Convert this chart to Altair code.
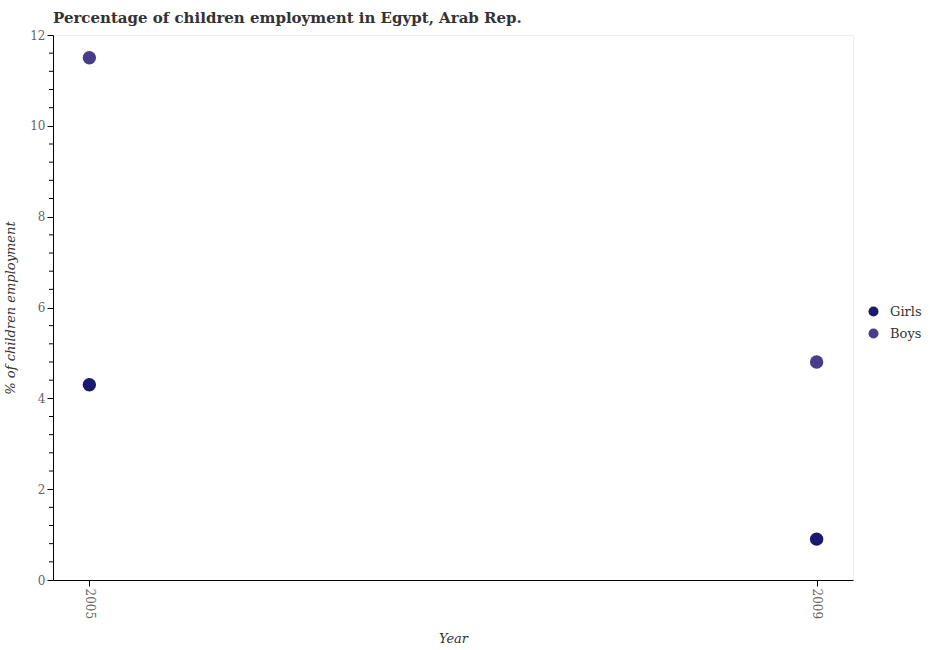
import altair as alt
import pandas as pd

years = ["2005", "2009", "2005", "2009"]
series = ["Girls", "Girls", "Boys", "Boys"]
values = [4.3, 0.9, 11.5, 4.8]
major_ticks = [0, 2, 4, 6, 8, 10, 12]
minor_ticks = [0.4, 0.8, 1.2, 1.6, 2.4, 2.8, 3.2, 3.6, 4.4, 4.8, 5.2, 5.6,
               6.4, 6.8, 7.2, 7.6, 8.4, 8.8, 9.2, 9.6, 10.4, 10.8, 11.2, 11.6]

df = pd.DataFrame({"Year": years, "Series": series, "Value": values})
minor_df = pd.DataFrame({"Value": minor_ticks})

yscale = alt.Scale(domain=[0, 12], nice=False)

points = alt.Chart(df).mark_circle(size=180, opacity=1).encode(
    x=alt.X("Year:O", scale=alt.Scale(type="point", padding=0.05),
            axis=alt.Axis(title="Year", labelAngle=90, labelAlign="left", labelBaseline="middle",
                          labelFont="DejaVu Serif", labelFontSize=12, labelColor="#666666",
                          titleFont="DejaVu Serif", titleFontSize=13, titleFontStyle="italic",
                          titleFontWeight="normal", titleColor="#333333", titlePadding=14,
                          domainColor="black", tickColor="black", tickSize=6, grid=False)),
    y=alt.Y("Value:Q", scale=yscale,
            axis=alt.Axis(title="% of children employment", values=major_ticks, format="d",
                          labelOverlap=False,
                          labelFont="DejaVu Serif", labelFontSize=12, labelColor="#666666",
                          titleFont="DejaVu Serif", titleFontSize=13, titleFontStyle="italic",
                          titleFontWeight="normal", titleColor="#333333", titlePadding=12,
                          domainColor="black", tickColor="black", tickSize=6, tickWidth=1,
                          grid=False)),
    color=alt.Color("Series:N", sort=["Girls", "Boys"],
                    scale=alt.Scale(domain=["Girls", "Boys"], range=["#191970", "#483D8B"]),
                    legend=alt.Legend(title=None, labelFont="DejaVu Serif", labelFontSize=13,
                                      labelColor="#333333", symbolType="circle", symbolSize=100,
                                      labelOffset=10, orient="none", legendX=814, legendY=270,
                                      rowPadding=8)),
)

minor = alt.Chart(minor_df).mark_rule(color="black", strokeWidth=1, clip=False).encode(
    x=alt.value(-4), x2=alt.value(0),
    y=alt.Y("Value:Q", scale=yscale),
)

chart = alt.layer(points, minor).properties(
    width=800, height=545,
    title=alt.TitleParams("Percentage of children employment in Egypt, Arab Rep.",
                          anchor="start", frame="group", font="DejaVu Serif", fontSize=15,
                          fontWeight="bold", color="#333333", offset=3),
    autosize=alt.AutoSizeParams(type="none"),
    padding={"left": 53, "top": 35, "right": 77, "bottom": 70},
).configure_view(stroke="#eeeeee", strokeWidth=1)

chart.save("out.html", embed_options={"renderer": "svg", "actions": False})
